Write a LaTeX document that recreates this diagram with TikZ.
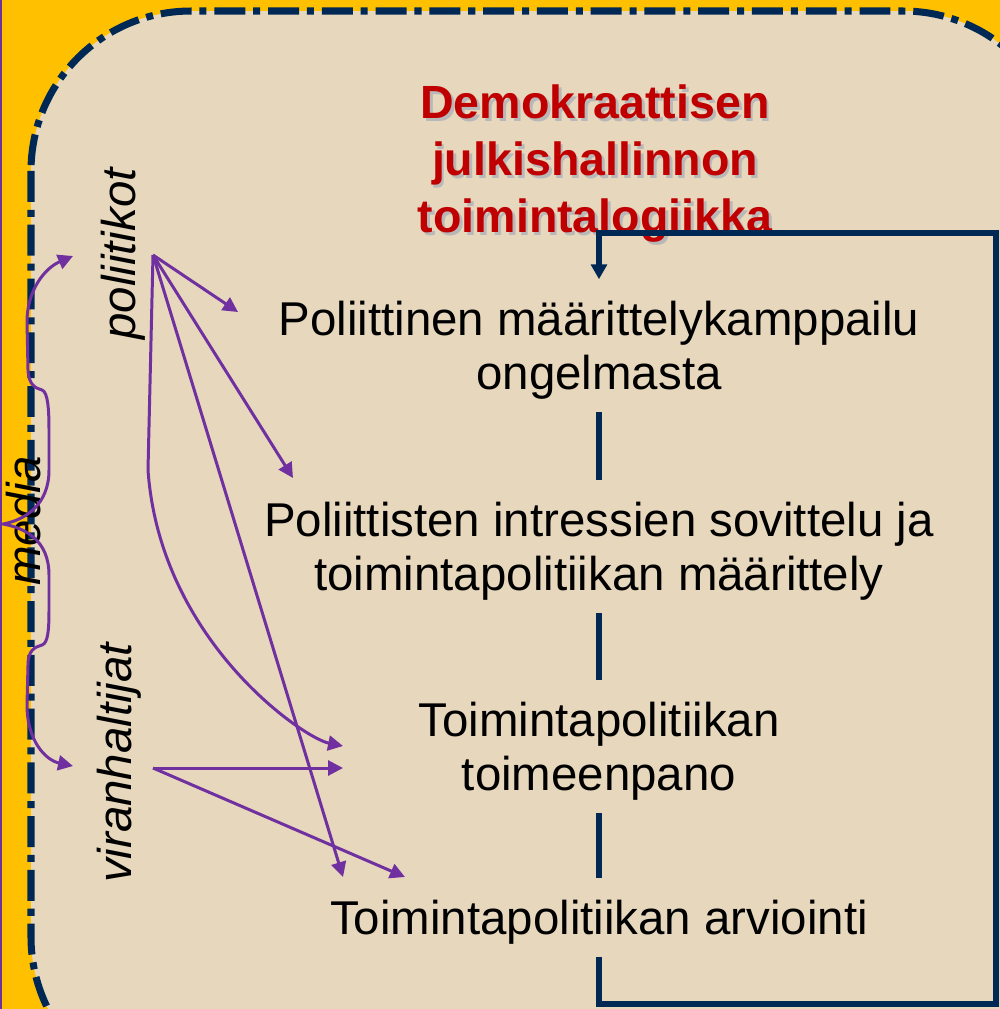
\documentclass[tikz,border=0pt]{standalone}
\usepackage{fontspec}
\setmainfont{Liberation Sans}
\usetikzlibrary{arrows.meta}
\definecolor{orangebg}{HTML}{FFC000}
\definecolor{beigebg}{HTML}{E6D7BD}
\definecolor{navyline}{HTML}{002855}
\definecolor{redtitle}{HTML}{C00000}
\definecolor{purplearrow}{HTML}{7030A0}
\newcommand{\dropshadow}[1]{\makebox[0pt][l]{\hspace{1.6pt}\raisebox{-1.6pt}{\textcolor{black!28}{#1}}}#1}
\tikzset{
	titletext/.style={align=center, inner sep=0pt, font=\bfseries\fontsize{26.5}{32.6}\selectfont},
	phase/.style={align=center, inner sep=0pt, font=\fontsize{27}{31}\selectfont},
	actor/.style={rotate=90, anchor=base, inner sep=0pt, font=\itshape\fontsize{27}{31}\selectfont},
	influence/.style={draw=purplearrow, line width=1.7pt, -{Triangle[length=8.5pt,width=8.5pt]}},
	cycleline/.style={draw=navyline, line width=3pt, shorten <=7pt, shorten >=12pt},
}
\begin{document}
\begin{tikzpicture}[x=0.02cm, y=-0.02cm]
		\useasboundingbox (0,0) rectangle (1000,1009);
		\clip (0,0) rectangle (1000,1009);
		
		%Background and frame
		\fill[orangebg] (0,0) rectangle (1000,1009);
		\draw[fill=beigebg, draw=navyline, line width=4pt, dash pattern=on 17.6pt off 4.5pt on 4pt off 4.5pt, 
		rounded corners=3.2cm] (31,11) rectangle (1063,1097);
		\draw[purplearrow, line width=1pt] (1,0) -- (1,1009);
		
		%Title
		\node (title) at (595,165) [titletext, text=redtitle]{\dropshadow{Demokraattisen}\\\dropshadow{julkishallinnon}\\\dropshadow{toimintalogiikka}};
		
		%Phases
		\node (problem) at (599,350) [phase]{Poliittinen määrittelykamppailu\\ongelmasta};
		\node (policy) at (599,551) [phase]{Poliittisten intressien sovittelu ja\\toimintapolitiikan määrittely};
		\node (implementation) at (599,751) [phase]{Toimintapolitiikan\\toimeenpano};
		\node (evaluation) at (599,934) [phase, anchor=base]{Toimintapolitiikan arviointi};
		
		%Phase connectors
		\draw[cycleline] (problem) -- (policy);
		\draw[cycleline] (policy) -- (implementation);
		\draw[cycleline] (implementation) -- (evaluation);
		
		%Feedback loop
		\coordinate (loopSW) at (599,1004);
		\coordinate (loopSE) at (996,1004);
		\coordinate (loopNE) at (996,233);
		\coordinate (loopNW) at (599,233);
		\draw[cycleline, -{Triangle[length=8.5pt,width=9pt]}] (evaluation.south) -- (loopSW) -- (loopSE) -- (loopNE) 
		-- (loopNW) -- (problem.north);
		
		%Actors
		\node (politicians) at (135,254) [actor]{poliitikot};
		\node (officials) at (132,763) [actor]{viranhaltijat};
		\node (media) at (40,521) [actor]{media};
		
		%Arrow origins and targets
		\coordinate (pol) at (153,255);
		\coordinate (vir) at (153,768);
		\coordinate (polProblem) at (238,312);
		\coordinate (polPolicy) at (293,478);
		\coordinate (polBend) at (148,470);
		\coordinate (polImpl) at (343,746);
		\coordinate (polEval) at (343,877);
		\coordinate (virImpl) at (343,768);
		\coordinate (virEval) at (405,877);
		\coordinate (mediaTop) at (73,256);
		\coordinate (mediaBottom) at (73,766);
		
		%Politicians
		\draw[influence] (pol) -- (polProblem);
		\draw[influence] (pol) -- (polPolicy);
		\draw[influence] (pol) -- (polEval);
		\draw[influence] (pol) -- (polBend) .. controls (160,640) and (303,738) .. (polImpl);
		
		%Officials
		\draw[influence] (vir) -- (virImpl);
		\draw[influence] (vir) -- (virEval);
		
		%Media brace
		\draw[influence, {Triangle[length=8.5pt,width=8.5pt]}-{Triangle[length=8.5pt,width=8.5pt]}] (mediaTop) 
		.. controls (45,268) and (27,290) .. (27,322) -- (28,370) .. controls (29,385) and (35,388) .. (42,390) 
		.. controls (48,392) and (49,410) .. (49,430) -- (49,470) .. controls (49,505) and (25,520) .. (3,524) 
		.. controls (25,528) and (49,540) .. (49,575) -- (49,610) .. controls (49,630) and (48,643) .. (42,645) 
		.. controls (35,647) and (28,650) .. (28,665) -- (27,705) .. controls (27,740) and (45,760) .. (mediaBottom);
		
\end{tikzpicture}
\end{document}
